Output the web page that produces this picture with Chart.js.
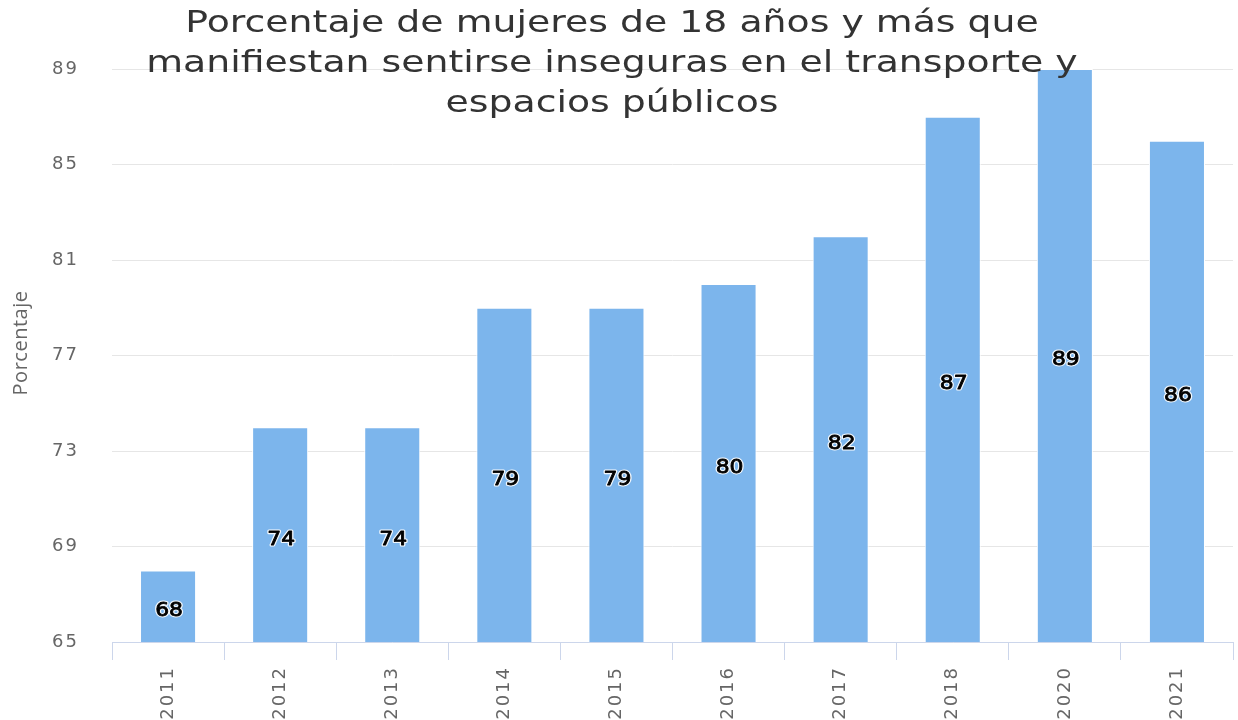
<!DOCTYPE html>
<html>
<head>
<meta charset="utf-8">
<script src="https://cdn.jsdelivr.net/npm/chart.js@4.4.1/dist/chart.umd.min.js"></script>
<style>
  html, body { margin: 0; padding: 0; background: #fff; }
</style>
</head>
<body>
<canvas id="myChart" width="1238" height="720"></canvas>
<script>
const years = ["2011", "2012", "2013", "2014", "2015", "2016", "2017", "2018", "2020", "2021"];
const porcentaje = [68, 74, 74, 79, 79, 80, 82, 87, 89, 86];
const titleLines = [
  "Porcentaje de mujeres de 18 años y más que",
  "manifiestan sentirse inseguras en el transporte y",
  "espacios públicos",
];
const yTitle = "Porcentaje";
const yTicks = [65, 69, 73, 77, 81, 85, 89];

const ctx = document.getElementById("myChart").getContext("2d");

// the original render has horizontally stretched glyphs
const STRETCH = 1.22;

const wideText = (c, text, x, y) => {
  c.save();
  c.translate(x, y);
  c.scale(STRETCH, 1);
  c.fillText(text, 0, 0);
  c.restore();
};

const spacing = {
  id: "spacing",
  beforeDraw(chart) {
    chart.ctx.letterSpacing = "2px";
  },
};

// bar value labels, y axis title and the floating title over the plot
const overlay = {
  id: "overlay",
  afterDraw(chart) {
    const c = chart.ctx;
    const yScale = chart.scales.y;
    const xScale = chart.scales.x;
    c.save();
    c.letterSpacing = "0px";
    c.font = "19px 'DejaVu Sans'";
    c.textAlign = "center";
    c.textBaseline = "middle";
    c.lineJoin = "round";
    porcentaje.forEach((v, i) => {
      const x = xScale.getPixelForValue(i) + 1;
      const y = (yScale.getPixelForValue(v) + yScale.getPixelForValue(65)) / 2 + 5;
      c.save();
      c.translate(x, y);
      c.scale(1.15, 1);
      c.lineWidth = 3;
      c.strokeStyle = "rgba(255,255,255,0.9)";
      c.strokeText(String(v), 0, 0);
      c.lineWidth = 0.8;
      c.strokeStyle = "#000";
      c.strokeText(String(v), 0, 0);
      c.fillStyle = "#000";
      c.fillText(String(v), 0, 0);
      c.restore();
    });

    c.save();
    c.translate(21, 343);
    c.rotate(-Math.PI / 2);
    c.font = "20px 'Open Sans'";
    c.letterSpacing = "0.5px";
    c.fillStyle = "#666";
    c.fillText(yTitle, 0, 0);
    c.restore();

    c.font = "31px 'DejaVu Sans'";
    c.fillStyle = "#333";
    titleLines.forEach((line, i) => wideText(c, line, 612, 24 + i * 40));
    c.restore();
  },
};

const myChart = new Chart(ctx, {
  type: "bar",
  data: {
    labels: years,
    datasets: [
      {
        label: "Porcentaje",
        data: porcentaje,
        backgroundColor: "#7cb5ec",
        borderColor: "#fff",
        borderWidth: 1,
        barPercentage: 0.5,
        categoryPercentage: 1,
      },
    ],
  },
  options: {
    responsive: false,
    animation: false,
    layout: { padding: { top: 69, right: 5, left: 0, bottom: 0 } },
    plugins: {
      legend: { display: false },
      title: { display: false },
      tooltip: { enabled: false },
    },
    scales: {
      y: {
        min: 65,
        max: 89,
        afterBuildTicks: (axis) => {
          axis.ticks = yTicks.map((v) => ({ value: v }));
        },
        afterFit: (axis) => {
          axis.width = 112;
        },
        grid: { color: "#e6e6e6", drawTicks: false },
        border: { display: false },
        ticks: {
          color: "#666",
          padding: 33,
          font: { family: "'DejaVu Sans'", size: 18 },
        },
      },
      x: {
        afterFit: (axis) => {
          axis.height = 78;
        },
        grid: {
          drawOnChartArea: false,
          color: "#ccd6eb",
          tickLength: 18,
          offset: true,
        },
        border: { color: "#ccd6eb", width: 1 },
        ticks: {
          color: "#666",
          maxRotation: 90,
          minRotation: 90,
          padding: 6,
          font: { family: "'DejaVu Sans'", size: 18 },
        },
      },
    },
  },
  plugins: [spacing, overlay],
});
</script>
</body>
</html>
